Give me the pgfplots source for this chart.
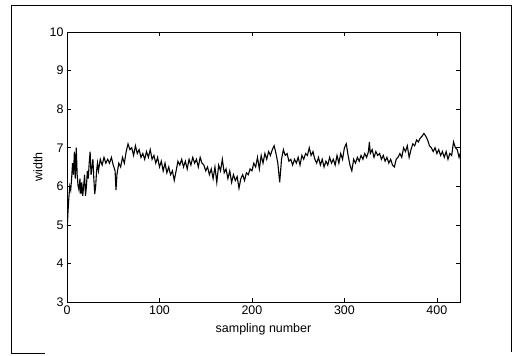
\documentclass[border=0pt]{standalone}
\usepackage{pgfplots}
\pgfplotsset{compat=1.18}
\usepackage{fontspec}
\setmainfont{Liberation Sans}
\pgfplotstableread{
x y
0 4.8
1 5.3
2 5.7
3 6.0
4 5.9
5 6.2
6 6.6
7 6.3
8 6.9
9 6.2
10 7.0
11 6.3
12 6.0
13 5.9
14 6.2
15 5.8
16 6.1
17 5.75
18 6.0
19 6.3
20 5.75
21 6.0
22 6.4
23 6.2
24 6.6
25 6.9
26 6.3
27 6.5
28 6.7
29 6.2
30 5.8
31 6.0
32 6.4
33 6.6
34 6.4
36 6.7
38 6.55
40 6.75
42 6.6
44 6.7
46 6.6
48 6.75
50 6.55
52 6.4
53 5.9
54 6.3
56 6.6
58 6.5
60 6.75
62 6.6
64 6.9
66 7.1
68 6.95
70 7.0
72 6.8
74 7.05
76 6.85
78 6.95
80 6.75
82 6.85
84 6.7
86 6.9
88 6.75
90 6.95
92 6.7
94 6.8
96 6.6
98 6.75
100 6.5
102 6.65
104 6.4
106 6.6
108 6.35
110 6.5
112 6.3
114 6.4
116 6.15
118 6.4
120 6.65
122 6.55
124 6.7
126 6.5
128 6.65
130 6.45
132 6.7
134 6.55
136 6.75
138 6.6
140 6.7
142 6.5
144 6.75
146 6.6
148 6.55
150 6.4
152 6.5
154 6.3
156 6.45
158 6.2
160 6.5
162 6.1
164 6.55
166 6.4
168 6.7
170 6.35
172 6.45
174 6.2
176 6.4
178 6.1
180 6.3
182 6.15
184 6.25
186 5.95
188 6.2
190 6.3
192 6.15
194 6.35
196 6.3
198 6.45
200 6.4
202 6.6
204 6.5
206 6.75
208 6.45
210 6.8
212 6.6
214 6.85
216 6.7
218 6.9
220 6.8
222 6.95
224 7.05
226 6.85
228 6.6
230 6.1
232 6.7
234 6.95
236 6.8
238 6.85
240 6.65
242 6.7
244 6.55
246 6.7
248 6.6
250 6.75
252 6.55
254 6.8
256 6.7
258 6.85
260 6.8
262 7.0
264 6.8
266 6.9
268 6.7
270 6.6
272 6.75
274 6.55
276 6.7
278 6.5
280 6.65
282 6.55
284 6.75
286 6.6
288 6.7
290 6.55
292 6.8
294 6.6
296 6.85
298 6.7
300 7.0
302 7.1
304 6.8
306 6.55
308 6.4
310 6.7
312 6.6
314 6.75
316 6.65
318 6.8
320 6.7
322 6.85
324 6.75
326 6.9
327 7.15
328 6.85
330 6.95
332 6.75
334 6.9
336 6.8
338 6.85
340 6.7
342 6.8
344 6.65
346 6.75
348 6.6
350 6.7
352 6.55
354 6.5
356 6.7
358 6.75
360 6.85
362 6.75
364 7.0
366 6.9
368 7.05
370 6.75
372 6.95
374 7.1
376 7.05
378 7.2
380 7.15
382 7.25
384 7.3
386 7.37
388 7.3
390 7.2
392 7.05
394 7.0
396 6.9
398 7.0
400 6.85
402 6.95
404 6.8
406 6.9
408 6.75
410 6.9
412 6.7
414 6.85
416 6.8
418 7.15
420 7.0
422 6.95
424 6.75
425 6.85
}\widthdata
\begin{document}
\begin{tikzpicture}
\path[use as bounding box] (0,0) rectangle (515bp,356bp);
\draw[line width=0.9bp] (11bp,3bp) -- (11bp,351bp) -- (511bp,351bp) -- (511bp,4bp);
\draw[line width=0.9bp] (11bp,3bp) -- (45bp,3bp);
\begin{axis}[
  at={(67bp,54bp)}, anchor=south west,
  width=393bp, height=270bp, scale only axis,
  xmin=0, xmax=425, ymin=3, ymax=10,
  xtick={0,100,200,300,400}, ytick={3,4,5,6,7,8,9,10},
  xtick pos=both, ytick pos=both,
  xticklabel pos=bottom, yticklabel pos=left,
  tick align=inside, major tick length=4bp,
  axis line style={line width=1bp},
  tick style={line width=0.7bp, black},
  /pgf/number format/assume math mode=true,
  tick label style={font=\fontsize{12.5}{14}\selectfont},
  label style={font=\fontsize{12.5}{14}\selectfont},
  xlabel={sampling number}, ylabel={width},
  xlabel style={at={(axis description cs:0.5,-0.1)}, anchor=center},
  ylabel style={at={(axis description cs:-0.074,0.5)}, anchor=center},
]
\addplot[black, line width=1.1bp, mark=none] table[x=x,y=y] {\widthdata};
\end{axis}
\end{tikzpicture}
\end{document}
